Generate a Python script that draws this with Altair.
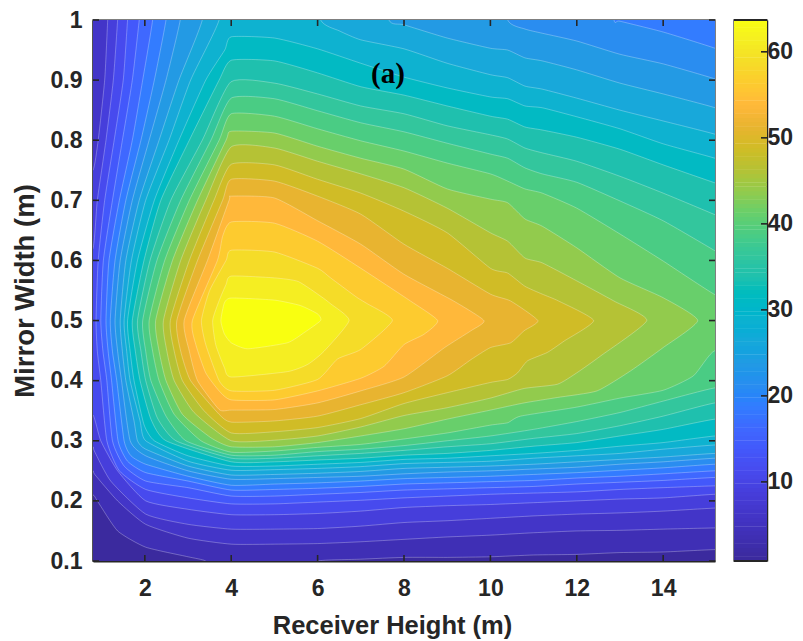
import altair as alt
import pandas as pd

X_TICKS = [2, 4, 6, 8, 10, 12, 14]
Y_TICKS = [0.1, 0.2, 0.3, 0.4, 0.5, 0.6, 0.7, 0.8, 0.9, 1.0]
CB_TICKS = [10, 20, 30, 40, 50, 60]
X_DOMAIN = [0.8, 15.2]
Y_DOMAIN = [0.1, 1.0]
CB_DOMAIN = [0.8, 63.7]

# band value (mid of each 2.5-wide contour band) and its colour
BAND_VALUES = [1.25, 3.75, 6.25, 8.75, 11.25, 13.75, 16.25, 18.75, 21.25, 23.75, 26.25, 28.75, 31.25,
               33.75, 36.25, 38.75, 41.25, 43.75, 46.25, 48.75, 51.25, 53.75, 56.25, 58.75, 61.25, 63.75]
BAND_COLORS = ["#3b2a9e", "#3f2fb5", "#4335c8", "#463edb", "#474aee", "#4358fb", "#3f68ff", "#337cff",
               "#2a8df0", "#239ae4", "#18a8da", "#0eb2d0", "#02bac3", "#1fc0ae", "#33c69d", "#4acc84",
               "#68cf6b", "#92cb4d", "#b5c235", "#d0bc26", "#e8b430", "#ffb83a", "#fdcb2f", "#f5dc28",
               "#f5ee22", "#f9ff10"]

L00 = [(0, 0), (16, 0), (16, 1.1), (0, 1.1)]
L01 = [(.5,1.1),(16,1.1),(16,.119),(15.2,.119),(14,.115),(13,.114),(12,.111),(11,.110),(10,.107),(9,.106),(8,.106),(7,.103),(6,.1),(5.8,.08),(3.6,.08),(3.41,.1),(3,.107),(2.02,.123),(1.37,.15),(.9,.2),(.8,.21),(.5,.21)]
L02 = [(.5,1.1),(16,1.1),(16,.155),(15.2,.155),(14,.153),(13,.151),(12,.150),(11,.147),(10,.143),(9,.140),(8,.136),(7,.132),(6,.129),(5,.128),(4,.128),(3,.138),(2.02,.161),(1.37,.2),(.84,.244),(.8,.25),(.5,.25)]
L03 = [(.5,.75),(.8,.75),(.92,.8),(1.07,.9),(1.14,1),(1.2,1.1),(16,1.1),(16,.188),(15.2,.188),(14,.183),(13,.180),(12,.178),(11,.175),(10,.171),(9,.167),(8,.164),(7,.158),(6,.154),(5,.153),(4,.153),(3,.161),(2.02,.178),(1.21,.233),(.83,.283),(.8,.29),(.5,.29)]
L04 = [(.5,.62),(.8,.62),(.90,.7),(1.10,.8),(1.27,.9),(1.37,1),(1.45,1.1),(16,1.1),(16,.211),(15.2,.211),(14,.205),(13,.203),(12,.200),(11,.197),(10,.194),(9,.192),(8,.189),(7,.183),(6,.179),(5,.177),(4,.177),(3,.186),(2.02,.2),(1.37,.25),(.98,.3),(.8,.343),(.5,.343)]
L05 = [(.87,.5),(.92,.6),(1.07,.7),(1.29,.8),(1.50,.9),(1.60,1),(1.7,1.1),(16,1.1),(16,.225),(15.2,.225),(14,.222),(13,.219),(12,.215),(11,.213),(10,.211),(9,.208),(8,.205),(7,.201),(6,.198),(5,.195),(4,.195),(3,.205),(2.02,.219),(1.41,.25),(1.12,.3),(.98,.4),(.90,.449)]
L06 = [(.98,.5),(1.04,.6),(1.25,.7),(1.48,.8),(1.71,.9),(1.87,1),(2,1.1),(16,1.1),(16,.239),(15.2,.239),(14,.234),(13,.231),(12,.228),(11,.224),(10,.222),(9,.220),(8,.218),(7,.214),(6,.211),(5,.208),(4,.208),(3,.222),(2.02,.233),(1.52,.258),(1.25,.3),(1.12,.4),(1.03,.449)]
L07 = [(1.10,.5),(1.17,.6),(1.41,.7),(1.71,.8),(1.95,.9),(2.18,1),(2.3,1.1),(16,1.1),(16,.250),(15.2,.250),(14,.245),(13,.241),(12,.238),(11,.234),(10,.232),(9,.230),(8,.228),(7,.224),(6,.221),(5,.219),(4,.218),(3,.233),(2.02,.247),(1.60,.266),(1.38,.3),(1.23,.4),(1.15,.449)]
L08 = [(1.20,.5),(1.31,.6),(1.56,.7),(1.91,.8),(2.22,.9),(2.49,1),(2.65,1.1),(12.6,1.1),(12.86,1),(13,.998),(14,.980),(15.2,.953),(16,.93),(16,.261),(15.2,.261),(14,.255),(13,.251),(12,.247),(11,.244),(10,.241),(9,.239),(8,.237),(7,.233),(6,.230),(5,.228),(4,.226),(3,.241),(2.02,.261),(1.68,.275),(1.52,.3),(1.35,.4),(1.25,.449)]
L09 = [(1.31,.5),(1.43,.6),(1.71,.7),(2.10,.8),(2.49,.9),(2.82,1),(3,1.1),(10.1,1.1),(10.4,1),(10.8,.985),(11.2,.978),(12,.965),(13,.943),(14,.927),(15.2,.902),(16,.88),(16,.271),(15.2,.271),(14,.265),(13,.261),(12,.256),(11,.253),(10,.250),(9,.248),(8,.245),(7,.241),(6,.239),(5,.237),(4,.236),(3,.25),(2.02,.275),(1.66,.3),(1.46,.4),(1.37,.449)]
L10 = [(1.43,.5),(1.56,.6),(1.87,.7),(2.33,.8),(2.79,.9),(3.33,1),(3.5,1.1),(7.3,1.1),(7.65,1),(8,.992),(9,.970),(10,.953),(10.4,.950),(10.8,.937),(11.2,.932),(12,.917),(13,.895),(14,.877),(15.2,.854),(16,.83),(16,.279),(15.2,.279),(14,.273),(13,.269),(12,.265),(11,.261),(10,.258),(9,.256),(8,.254),(7,.249),(6,.246),(5,.244),(4,.243),(3,.258),(2.02,.286),(1.83,.3),(1.75,.333),(1.56,.4),(1.48,.449)]
L11 = [(1.52,.5),(1.69,.6),(2.02,.7),(2.56,.8),(3.06,.9),(3.72,1),(3.9,1.1),(5.7,1.1),(6.07,1),(6.5,.982),(7,.967),(8,.952),(9,.928),(10,.909),(10.4,.904),(10.8,.890),(11.2,.885),(12,.870),(13,.850),(14,.832),(15.2,.810),(16,.79),(16,.293),(15.2,.293),(14,.286),(13,.279),(12,.275),(11,.271),(10,.266),(9,.264),(8,.262),(7,.257),(6,.254),(5,.252),(4,.251),(3,.266),(2.02,.3),(1.89,.333),(1.66,.4),(1.58,.449)]
L12 = [(1.60,.5),(1.83,.6),(2.22,.7),(2.79,.8),(3.41,.9),(3.85,.95),(4,.972),(5,.970),(6,.952),(7,.928),(8,.905),(9,.887),(10,.872),(10.4,.869),(10.8,.857),(11.2,.854),(12,.839),(13,.819),(14,.794),(15.2,.770),(16,.75),(16,.308),(15.2,.308),(14,.297),(13,.291),(12,.284),(11,.279),(10,.275),(9,.271),(8,.269),(7,.264),(6,.261),(5,.258),(4,.258),(3,.275),(2.22,.3),(1.98,.327),(1.75,.4),(1.66,.449)]
L13 = [(1.71,.5),(1.98,.6),(2.37,.7),(3.03,.8),(3.72,.9),(4,.933),(5,.932),(6,.912),(7,.889),(8,.875),(9,.857),(10,.840),(10.4,.835),(10.8,.822),(11.2,.817),(12,.805),(13,.785),(14,.759),(15.2,.729),(16,.71),(16,.336),(15.2,.336),(14,.319),(13,.308),(12,.297),(11,.291),(10,.284),(9,.279),(8,.276),(7,.271),(6,.268),(5,.265),(4,.265),(2.49,.3),(2.14,.336),(1.89,.4),(1.78,.449)]
L14 = [(1.83,.5),(2.12,.6),(2.60,.7),(3.33,.8),(3.99,.897),(5,.895),(6,.877),(7,.857),(8,.844),(9,.824),(10,.809),(10.4,.802),(10.8,.787),(11.2,.779),(12,.765),(13,.740),(14,.712),(15.2,.676),(16,.65),(16,.363),(15.2,.363),(14,.341),(13,.325),(12,.312),(11,.304),(10,.295),(9,.290),(8,.284),(7,.279),(6,.275),(5,.271),(4,.271),(2.72,.3),(2.29,.338),(2.02,.4),(1.91,.449)]
L15 = [(1.95,.5),(2.28,.6),(2.83,.7),(3.53,.8),(4,.870),(5,.869),(6,.849),(7,.829),(8,.814),(9,.795),(10,.777),(10.4,.770),(10.8,.754),(11.2,.744),(12,.730),(13,.699),(14,.666),(15.2,.616),(16,.58),(16,.388),(15.2,.388),(14,.366),(13,.347),(12,.332),(11,.319),(10,.308),(9,.300),(8,.292),(7,.286),(6,.282),(5,.276),(4,.276),(2.95,.3),(2.49,.341),(2.14,.4),(2.02,.449)]
L16 = [(2.10,.5),(2.46,.6),(3.03,.7),(3.72,.8),(4,.844),(5,.840),(6,.819),(7,.799),(8,.782),(9,.762),(10,.744),(10.4,.732),(10.8,.719),(11.2,.712),(12,.687),(13,.644),(14,.599),(15.2,.543),(16,.52),(16,.43),(15.2,.450),(14.7,.408),(14,.384),(13,.371),(12,.356),(10.7,.341),(10.4,.330),(10,.326),(9,.313),(8,.303),(7,.294),(6,.289),(5,.283),(4,.281),(3.30,.3),(2.68,.344),(2.33,.4),(2.18,.449)]
L17 = [(2.25,.5),(2.64,.6),(3.22,.7),(3.88,.8),(4,.815),(5,.812),(6,.790),(7,.770),(8,.752),(9,.719),(10,.702),(10.4,.696),(10.8,.669),(11.2,.657),(12,.621),(13,.571),(14,.538),(14.8,.5),(14,.455),(13.24,.416),(12.47,.383),(11.55,.372),(10.78,.363),(10,.351),(9,.336),(8,.320),(7,.308),(6,.297),(5,.290),(4,.290),(3.53,.305),(2.87,.344),(2.49,.4),(2.33,.449)]
L18 = [(2.43,.5),(2.83,.6),(3.41,.7),(4,.789),(5,.787),(6,.765),(7,.744),(8,.721),(9,.687),(10,.646),(10.4,.632),(10.8,.604),(11.2,.596),(12,.566),(12.86,.5325),(13.62,.5),(12.55,.441),(12,.413),(11.55,.394),(10.78,.387),(10,.371),(9,.355),(8,.342),(7,.323),(6,.308),(5,.301),(4,.300),(3.14,.347),(2.68,.4),(2.51,.449)]
L19 = [(2.59,.5),(3.03,.6),(3.60,.7),(4,.76),(5,.759),(6,.735),(7,.712),(8,.682),(9,.646),(10,.587),(10.4,.579),(10.8,.557),(11.2,.544),(11.58,.5325),(12.39,.5),(11.71,.466),(11.32,.447),(10.86,.433),(10.63,.413),(10.4,.402),(10,.397),(9,.380),(8,.362),(7,.337),(6,.322),(5,.315),(4,.313),(3.37,.35),(2.87,.4),(2.68,.449)]
L20 = [(2.74,.5),(3.22,.6),(3.80,.7),(4,.735),(5,.732),(6,.707),(7,.677),(8,.627),(9,.587),(10,.544),(10.47,.5325),(11.1,.5),(10.78,.483),(10.47,.463),(10,.455),(9.55,.435),(9,.408),(8,.380),(7,.360),(6,.341),(5,.333),(4,.331),(3.72,.344),(3.06,.4),(2.83,.449)]
L21 = [(2.91,.5),(3.45,.6),(3.95,.7),(4,.707),(5,.704),(6,.666),(7,.627),(8,.577),(9.15,.5325),(9.85,.5),(9.55,.483),(8.94,.455),(8,.406),(7,.383),(6,.363),(5,.352),(4,.351),(3.72,.352),(3.22,.4),(3.03,.449)]
L22 = [(3.10,.5),(3.68,.6),(3.8,.64),(4,.664),(5,.662),(6,.632),(7,.587),(8.15,.5325),(8.78,.5),(8.46,.477),(8,.460),(7.54,.424),(7,.404),(6,.383),(5,.368),(4,.368),(3.72,.383),(3.41,.413),(3.18,.46)]
L23 = [(3.31,.5),(3.5,.55),(3.88,.6),(4,.617),(5,.614),(6,.587),(6.3,.571),(6.92,.538),(7.15,.528),(7.73,.5),(7,.452),(6.46,.436),(6,.402),(5,.384),(4,.383),(3.72,.4),(3.41,.46)]
L24 = [(3.57,.5),(3.72,.533),(3.88,.56),(4,.574),(5,.571),(5.55,.565),(6.08,.54),(6.3,.528),(6.73,.5),(6.15,.449),(5.77,.427),(5.3,.415),(4,.406),(3.84,.422),(3.64,.46)]
L25 = [(3.76,.5),(3.84,.529),(4,.5375),(5,.534),(5.6,.525),(6,.511),(6.07,.5),(5.69,.48),(5.3,.463),(4.38,.453),(4,.463),(3.84,.478)]

LEVELS = [L00, L01, L02, L03, L04, L05, L06, L07, L08, L09, L10, L11, L12, L13, L14, L15, L16, L17, L18, L19, L20,
          L21, L22, L23, L24, L25]

rows = []
for k, pts in enumerate(LEVELS):
    for i, (x, y) in enumerate(pts):
        rows.append({"level": k, "band": BAND_VALUES[k], "i": i, "x": x, "y": y})
contours = pd.DataFrame(rows)

INK = "#262626"
FONT = "Liberation Sans"
color_scale = alt.Scale(domain=BAND_VALUES, range=BAND_COLORS, clamp=True)
xs = alt.Scale(domain=X_DOMAIN, nice=False, zero=False)
ys = alt.Scale(domain=Y_DOMAIN, nice=False, zero=False)
W, H = 622, 541
TICK = 6

bands = alt.Chart(contours).mark_line(
    interpolate="cardinal-closed", tension=0.45, clip=True, stroke="white", strokeOpacity=0.4, strokeWidth=0.7
).encode(
    x=alt.X("x:Q", scale=xs, axis=alt.Axis(values=X_TICKS, title="Receiver Height (m)", grid=False, tickSize=0,
            labelFont=FONT, labelFontSize=23, labelFontWeight="bold", labelColor=INK, labelPadding=16,
            titleFont=FONT, titleFontSize=25.5, titleFontWeight="bold", titleColor=INK, titlePadding=13,
            titleX=299, domainColor=INK, domainWidth=2)),
    y=alt.Y("y:Q", scale=ys, axis=alt.Axis(values=Y_TICKS, format="~g", title="Mirror Width (m)", grid=False, tickSize=0,
            labelFont=FONT, labelFontSize=23, labelFontWeight="bold", labelColor=INK, labelPadding=11,
            titleFont=FONT, titleFontSize=27.5, titleFontWeight="bold", titleColor=INK, titlePadding=11,
            domainColor=INK, domainWidth=2)),
    fill=alt.Fill("band:Q", scale=color_scale, legend=None),
    detail="level:O",
    order=alt.Order("i:Q"),
)

xt = pd.DataFrame({"v": X_TICKS})
yt = pd.DataFrame({"v": Y_TICKS})
rule = dict(color=INK, strokeWidth=1.6)
x_bot = alt.Chart(xt).mark_rule(**rule).encode(x=alt.X("v:Q", scale=xs), y=alt.value(H), y2=alt.value(H - TICK))
x_top = alt.Chart(xt).mark_rule(**rule).encode(x=alt.X("v:Q", scale=xs), y=alt.value(0), y2=alt.value(TICK))
y_left = alt.Chart(yt).mark_rule(**rule).encode(y=alt.Y("v:Q", scale=ys), x=alt.value(0), x2=alt.value(TICK))
y_right = alt.Chart(yt).mark_rule(**rule).encode(y=alt.Y("v:Q", scale=ys), x=alt.value(W), x2=alt.value(W - TICK))

label = alt.Chart(pd.DataFrame({"x": [7.63], "y": [0.91], "t": ["(a)"]})).mark_text(
    font="Liberation Serif", fontWeight="bold", fontSize=29, color="black"
).encode(x=alt.X("x:Q", scale=xs), y=alt.Y("y:Q", scale=ys), text="t:N")

main = alt.layer(bands, x_bot, x_top, y_left, y_right, label).properties(width=W, height=H)

# colour bar
cb_vals = [round(CB_DOMAIN[0] + i * 0.5, 2) for i in range(126)]
cb = pd.DataFrame({"v0": cb_vals, "v1": [v + 0.55 for v in cb_vals], "m": [v + 0.25 for v in cb_vals]})
cs = alt.Scale(domain=CB_DOMAIN, nice=False, zero=False)
bar = alt.Chart(cb).mark_rect(clip=True, strokeWidth=0).encode(
    y=alt.Y("v0:Q", scale=cs, axis=alt.Axis(values=CB_TICKS, orient="right", title=None, grid=False, tickSize=0,
            labelFont=FONT, labelFontSize=23, labelFontWeight="bold", labelColor=INK, labelPadding=0,
            domainColor=INK, domainWidth=1.5)),
    y2="v1:Q",
    x=alt.value(0), x2=alt.value(33),
    color=alt.Color("m:Q", scale=color_scale, legend=None),
)
cb_t = pd.DataFrame({"v": CB_TICKS})
cb_ticks = alt.Chart(cb_t).mark_rule(**rule).encode(y=alt.Y("v:Q", scale=cs), x=alt.value(33), x2=alt.value(27))
cb_ends = alt.Chart(pd.DataFrame({"v": CB_DOMAIN})).mark_rule(color=INK, strokeWidth=2).encode(
    y=alt.Y("v:Q", scale=cs), x=alt.value(0), x2=alt.value(33))
colorbar = alt.layer(bar, cb_ticks, cb_ends).properties(width=33, height=H)

chart = alt.hconcat(main, colorbar, spacing=15, padding={"left": 2, "top": 0, "right": 0, "bottom": 0}).configure_view(
    stroke="#555555", strokeWidth=1.5
).resolve_scale(color="independent", fill="independent")

chart.save("out.html", embed_options={"renderer": "svg", "actions": False})
